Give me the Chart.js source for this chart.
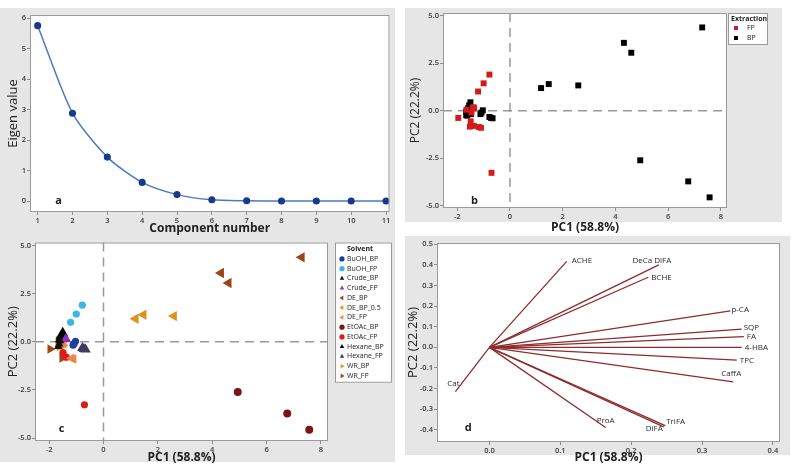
<!DOCTYPE html>
<html>
<head>
<meta charset="utf-8">
<script src="https://cdn.jsdelivr.net/npm/chart.js@4.4.1/dist/chart.umd.min.js"></script>
<style>
body{margin:0;background:#fff;}
#wrap{position:relative;width:791px;height:470px;overflow:hidden;}
.bg{position:absolute;background:#e6e6e6;}
canvas{position:absolute;}
</style>
</head>
<body>
<div id="wrap">
  <div class="bg" style="left:0;top:8px;width:395px;height:454px"></div>
  <div class="bg" style="left:405px;top:8px;width:377px;height:214px"></div>
  <div class="bg" style="left:405px;top:236px;width:385px;height:219px"></div>
  <canvas id="chartA" width="395" height="236" style="left:0;top:0"></canvas>
  <canvas id="chartB" width="382" height="236" style="left:400px;top:0"></canvas>
  <canvas id="chartC" width="395" height="234" style="left:0;top:236px"></canvas>
  <canvas id="chartD" width="391" height="234" style="left:400px;top:236px"></canvas>
</div>
<script>
// scree plot
const components=[1,2,3,4,5,6,7,8,9,10,11];
const eigenValues=[5.75,2.88,1.44,0.61,0.21,0.04,0.01,0.0,0.0,0.0,0.0];

// score plot, one entry per sample
const solventNames=['BuOH_BP','BuOH_FP','Crude_BP','Crude_FP','DE_BP','DE_BP_0.5','DE_FP','EtOAc_BP','EtOAc_FP','Hexane_BP','Hexane_FP','WR_BP','WR_FP'];
const extractionNames=['FP','BP'];
const sampleSolvent=[
  'BuOH_BP','BuOH_BP','BuOH_BP','BuOH_FP','BuOH_FP','BuOH_FP',
  'Crude_BP','Crude_BP','Crude_BP','Crude_FP','Crude_FP','Crude_FP',
  'DE_BP','DE_BP','DE_BP','DE_BP_0.5','DE_BP_0.5','DE_BP_0.5',
  'DE_FP','DE_FP','DE_FP','EtOAc_BP','EtOAc_BP','EtOAc_BP',
  'EtOAc_FP','EtOAc_FP','EtOAc_FP','Hexane_BP','Hexane_BP','Hexane_BP',
  'Hexane_FP','Hexane_FP','Hexane_FP','WR_BP','WR_BP','WR_BP',
  'WR_FP','WR_FP','WR_FP'];
const sampleExtraction=[
  'BP','BP','BP','FP','FP','FP',
  'BP','BP','BP','FP','FP','FP',
  'BP','BP','BP','BP','BP','BP',
  'FP','FP','FP','BP','BP','BP',
  'FP','FP','FP','BP','BP','BP',
  'BP','BP','BP','BP','BP','BP',
  'FP','FP','FP'];
const samplePC1=[
  -1.03,-1.08,-1.12,-0.78,-1.00,-1.21,
  -1.60,-1.63,-1.66,-1.38,-1.36,-1.40,
  7.29,4.32,4.60,1.18,1.47,2.59,
  -1.46,-1.18,-1.10,4.94,6.76,7.57,
  -0.70,-1.49,-1.37,-1.50,-1.55,-1.58,
  -0.78,-0.66,-0.72,-1.66,-1.62,-1.48,
  -1.96,-1.65,-1.52];
const samplePC2=[
  0.02,-0.10,-0.18,1.90,1.44,1.01,
  0.05,-0.12,-0.24,0.18,0.12,0.15,
  4.38,3.57,3.05,1.19,1.40,1.33,
  -0.10,-0.86,-0.90,-2.61,-3.72,-4.56,
  -3.27,-0.56,-0.80,0.44,0.28,0.14,
  -0.33,-0.40,-0.38,-0.06,-0.26,-0.18,
  -0.38,0.05,-0.84];

// loading plot
const variableNames=['ACHE','DeCa DiFA','BCHE','p-CA','SQP','FA','4-HBA','TPC','CaffA','Cat','ProA','DiFA','TriFA'];
const loadingPC1=[0.109,0.239,0.224,0.340,0.356,0.359,0.356,0.349,0.344,-0.048,0.164,0.246,0.248];
const loadingPC2=[0.417,0.400,0.340,0.177,0.088,0.052,0.000,-0.062,-0.167,-0.215,-0.389,-0.386,-0.380];

// tick labels
const screeTicksX=[1,2,3,4,5,6,7,8,9,10,11];
const screeTicksY=[0,1,2,3,4,5,6];
const scoreTicksX=[-2,0,2,4,6,8];
const scoreTicksY=[-5,-2.5,0,2.5,5];
const loadTicksX=[0,0.1,0.2,0.3,0.4];
const loadTicksY=[-0.4,-0.3,-0.2,-0.1,0,0.1,0.2,0.3,0.4,0.5];

Chart.defaults.font.family="'Open Sans', sans-serif";
Chart.defaults.animation=false;

const solventStyle={
  'BuOH_BP':{color:'#1d3f9c',shape:'circle',rot:0,r:3.6},
  'BuOH_FP':{color:'#3db5e6',shape:'circle',rot:0,r:3.6},
  'Crude_BP':{color:'#111111',shape:'triangle',rot:0,r:5},
  'Crude_FP':{color:'#8a2fc0',shape:'triangle',rot:0,r:5},
  'DE_BP':{color:'#9c4319',shape:'triangle',rot:-90,r:6},
  'DE_BP_0.5':{color:'#df911e',shape:'triangle',rot:-90,r:6},
  'DE_FP':{color:'#e8874e',shape:'triangle',rot:-90,r:5.5},
  'EtOAc_BP':{color:'#7b1515',shape:'circle',rot:0,r:4},
  'EtOAc_FP':{color:'#e01a1a',shape:'circle',rot:0,r:3.6},
  'Hexane_BP':{color:'#000000',shape:'triangle',rot:0,r:6.5},
  'Hexane_FP':{color:'#3f3b5c',shape:'triangle',rot:0,r:6},
  'WR_BP':{color:'#e39a1c',shape:'triangle',rot:90,r:5.5},
  'WR_FP':{color:'#a0441c',shape:'triangle',rot:90,r:5.5}
};
const extractionColor={FP:'#d21c1c',BP:'#000000'};

const labelPlace={
  'ACHE':{align:'left',dx:5,dy:-1},
  'DeCa DiFA':{align:'center',dx:-7,dy:-4},
  'BCHE':{align:'left',dx:3,dy:0},
  'p-CA':{align:'left',dx:1,dy:-1},
  'SQP':{align:'left',dx:2,dy:-1},
  'FA':{align:'left',dx:3,dy:0},
  '4-HBA':{align:'left',dx:3,dy:0},
  'TPC':{align:'left',dx:3,dy:1},
  'CaffA':{align:'center',dx:-2,dy:-8},
  'Cat':{align:'center',dx:-2,dy:-8},
  'ProA':{align:'center',dx:0,dy:-7},
  'DiFA':{align:'right',dx:-1,dy:2},
  'TriFA':{align:'left',dx:1,dy:-4}
};

function makeAxis(o){
  return {
    type:'linear',min:o.min,max:o.max,
    afterBuildTicks:s=>{s.ticks=o.ticks.map(v=>({value:v}));},
    afterFit:s=>{ if(s.isHorizontal()) s.height=o.size; else s.width=o.size; },
    grid:{drawOnChartArea:false,tickLength:3,color:'#8c8c8c'},
    border:{display:false},
    ticks:{callback:o.fmt,font:{size:7.5,weight:'600'},color:'#3a3a3a',padding:1,autoSkip:false,maxRotation:0},
    title:{display:true,text:o.title,color:'#222',font:{size:o.tsize,weight:o.tweight},padding:o.tpad}
  };
}

const framePlugin={
  id:'frame',
  beforeDraw(chart){
    const {ctx,chartArea:a}=chart;
    ctx.save();ctx.fillStyle='#ffffff';ctx.fillRect(a.left,a.top,a.width,a.height);ctx.restore();
  },
  afterDraw(chart){
    const {ctx,chartArea:a}=chart;
    ctx.save();ctx.strokeStyle='#9a9a9a';ctx.lineWidth=1;
    ctx.strokeRect(a.left+0.5,a.top+0.5,a.width-1,a.height-1);ctx.restore();
  }
};

const zeroLines={
  id:'zeroLines',
  beforeDatasetsDraw(chart,args,opts){
    if(!opts.show) return;
    const {ctx,chartArea:a,scales}=chart;
    const x0=scales.x.getPixelForValue(0),y0=scales.y.getPixelForValue(0);
    ctx.save();ctx.strokeStyle='#9a9a9a';ctx.lineWidth=1.5;ctx.setLineDash([9,6]);
    ctx.beginPath();ctx.moveTo(x0,a.top);ctx.lineTo(x0,a.bottom);ctx.stroke();
    ctx.beginPath();ctx.moveTo(a.left,y0);ctx.lineTo(a.right,y0);ctx.stroke();
    ctx.restore();
  }
};

const panelLetter={
  id:'panelLetter',
  afterDatasetsDraw(chart,args,opts){
    if(!opts.text) return;
    const {ctx,scales}=chart;
    ctx.save();ctx.fillStyle='#222';ctx.font="bold 11px 'Open Sans', sans-serif";
    ctx.textAlign='center';ctx.textBaseline='middle';
    ctx.fillText(opts.text,scales.x.getPixelForValue(opts.x),scales.y.getPixelForValue(opts.y));
    ctx.restore();
  }
};

const boxLegend={
  id:'boxLegend',
  afterDraw(chart,args,o){
    if(!o.title) return;
    const {ctx,chartArea:a}=chart;
    const sets=chart.data.datasets;
    const x=a.right+o.gap,y=a.top;
    const h=o.titleH+sets.length*o.rowH+2;
    ctx.save();
    ctx.fillStyle='#ffffff';ctx.fillRect(x,y,o.width,h);
    ctx.strokeStyle='#9a9a9a';ctx.lineWidth=1;ctx.strokeRect(x+0.5,y+0.5,o.width-1,h-1);
    ctx.fillStyle='#222';ctx.textBaseline='middle';ctx.textAlign='left';
    ctx.font="bold 7px 'Open Sans', sans-serif";
    ctx.fillText(o.title,x+o.titleX,y+o.titleH/2+1);
    ctx.font="7px 'Open Sans', sans-serif";
    sets.forEach((d,i)=>{
      const cy=y+o.titleH+i*o.rowH+o.rowH/2;
      ctx.fillStyle=d.backgroundColor;ctx.strokeStyle=d.backgroundColor;
      Chart.helpers.drawPoint(ctx,{pointStyle:d.pointStyle,rotation:d.pointRotation||0,radius:o.markR,borderWidth:0},x+o.markX,cy);
      ctx.fillStyle='#222';
      ctx.fillText(d.label,x+o.textX,cy);
    });
    ctx.restore();
  }
};

const vectorLabels={
  id:'vectorLabels',
  afterDatasetsDraw(chart){
    const {ctx,scales}=chart;
    ctx.save();ctx.fillStyle='#2a2a2a';ctx.font="8px 'Open Sans', sans-serif";ctx.textBaseline='middle';
    chart.data.datasets.forEach(d=>{
      const p=d.data[1],pl=labelPlace[d.label];
      ctx.textAlign=pl.align;
      ctx.fillText(d.label,scales.x.getPixelForValue(p.x)+pl.dx,scales.y.getPixelForValue(p.y)+pl.dy);
    });
    ctx.restore();
  }
};

const basePlugins={legend:{display:false},tooltip:{enabled:false}};

// a: scree plot
new Chart(document.getElementById('chartA'),{
  type:'line',
  data:{datasets:[{
    data:components.map((c,i)=>({x:c,y:eigenValues[i]})),
    borderColor:'#4b7bbf',borderWidth:1.5,tension:0.25,
    pointBackgroundColor:'#173a8c',pointBorderColor:'#173a8c',pointRadius:2.8
  }]},
  options:{
    responsive:false,
    layout:{padding:{left:0,top:15,right:2,bottom:0}},
    scales:{
      x:makeAxis({min:0.78,max:11.1,ticks:screeTicksX,fmt:v=>String(v),size:24,title:'Component number',tsize:12,tweight:'bold',tpad:{bottom:0}}),
      y:makeAxis({min:-0.36,max:6.1,ticks:screeTicksY,fmt:v=>String(v),size:30,title:'Eigen value',tsize:13,tweight:'normal',tpad:{top:5}})
    },
    plugins:{...basePlugins,panelLetter:{text:'a',x:1.6,y:0.02}}
  },
  plugins:[framePlugin,panelLetter]
});

// b: score plot by extraction
new Chart(document.getElementById('chartB'),{
  type:'scatter',
  data:{datasets:extractionNames.map(e=>({
    label:e,
    data:samplePC1.map((v,i)=>({x:v,y:samplePC2[i]})).filter((p,i)=>sampleExtraction[i]===e),
    backgroundColor:extractionColor[e],borderColor:extractionColor[e],
    pointStyle:'rect',pointRadius:4.2,borderWidth:0
  }))},
  options:{
    responsive:false,
    layout:{padding:{left:0,top:13,right:55,bottom:0}},
    scales:{
      x:makeAxis({min:-2.54,max:8.23,ticks:scoreTicksX,fmt:v=>String(v),size:28,title:'PC1 (58.8%)',tsize:12,tweight:'bold',tpad:{bottom:1}}),
      y:makeAxis({min:-5.12,max:5.14,ticks:scoreTicksY,fmt:v=>v.toFixed(1),size:43,title:'PC2 (22.2%)',tsize:12,tweight:'normal',tpad:{top:8}})
    },
    plugins:{...basePlugins,
      zeroLines:{show:true},
      panelLetter:{text:'b',x:-1.35,y:-4.74},
      boxLegend:{title:'Extraction',gap:1,width:40,titleH:10,rowH:10,titleX:3,markX:8,markR:2.8,textX:19}
    }
  },
  plugins:[framePlugin,zeroLines,panelLetter,boxLegend]
});

// c: score plot by solvent
new Chart(document.getElementById('chartC'),{
  type:'scatter',
  data:{datasets:solventNames.map(s=>({
    label:s,
    data:samplePC1.map((v,i)=>({x:v,y:samplePC2[i]})).filter((p,i)=>sampleSolvent[i]===s),
    backgroundColor:solventStyle[s].color,borderColor:solventStyle[s].color,
    pointStyle:solventStyle[s].shape,pointRotation:solventStyle[s].rot,
    pointRadius:solventStyle[s].r,borderWidth:0
  }))},
  options:{
    responsive:false,
    layout:{padding:{left:0,top:6,right:67,bottom:0}},
    scales:{
      x:makeAxis({min:-2.52,max:8.26,ticks:scoreTicksX,fmt:v=>String(v),size:29,title:'PC1 (58.8%)',tsize:12,tweight:'bold',tpad:{bottom:5}}),
      y:makeAxis({min:-5.15,max:5.15,ticks:scoreTicksY,fmt:v=>v.toFixed(1),size:35,title:'PC2 (22.2%)',tsize:13,tweight:'normal',tpad:{top:5}})
    },
    plugins:{...basePlugins,
      zeroLines:{show:true},
      panelLetter:{text:'c',x:-1.54,y:-4.52},
      boxLegend:{title:'Solvent',gap:7,width:57,titleH:11.5,rowH:9.75,titleX:12,markX:7,markR:2.6,textX:12}
    }
  },
  plugins:[framePlugin,zeroLines,panelLetter,boxLegend]
});

// d: loading plot
new Chart(document.getElementById('chartD'),{
  type:'scatter',
  data:{datasets:variableNames.map((n,i)=>({
    label:n,
    data:[{x:0,y:0},{x:loadingPC1[i],y:loadingPC2[i]}],
    showLine:true,borderColor:'#8e2c2c',borderWidth:1.3,pointRadius:0
  }))},
  options:{
    responsive:false,
    layout:{padding:{left:0,top:7,right:11,bottom:0}},
    scales:{
      x:makeAxis({min:-0.074,max:0.41,ticks:loadTicksX,fmt:v=>v.toFixed(1),size:28,title:'PC1 (58.8%)',tsize:12,tweight:'bold',tpad:{bottom:5}}),
      y:makeAxis({min:-0.459,max:0.506,ticks:loadTicksY,fmt:v=>v.toFixed(1),size:37,title:'PC2 (22.2%)',tsize:13,tweight:'normal',tpad:{top:5}})
    },
    plugins:{...basePlugins,panelLetter:{text:'d',x:-0.03,y:-0.39}}
  },
  plugins:[framePlugin,panelLetter,vectorLabels]
});
</script>
</body>
</html>
